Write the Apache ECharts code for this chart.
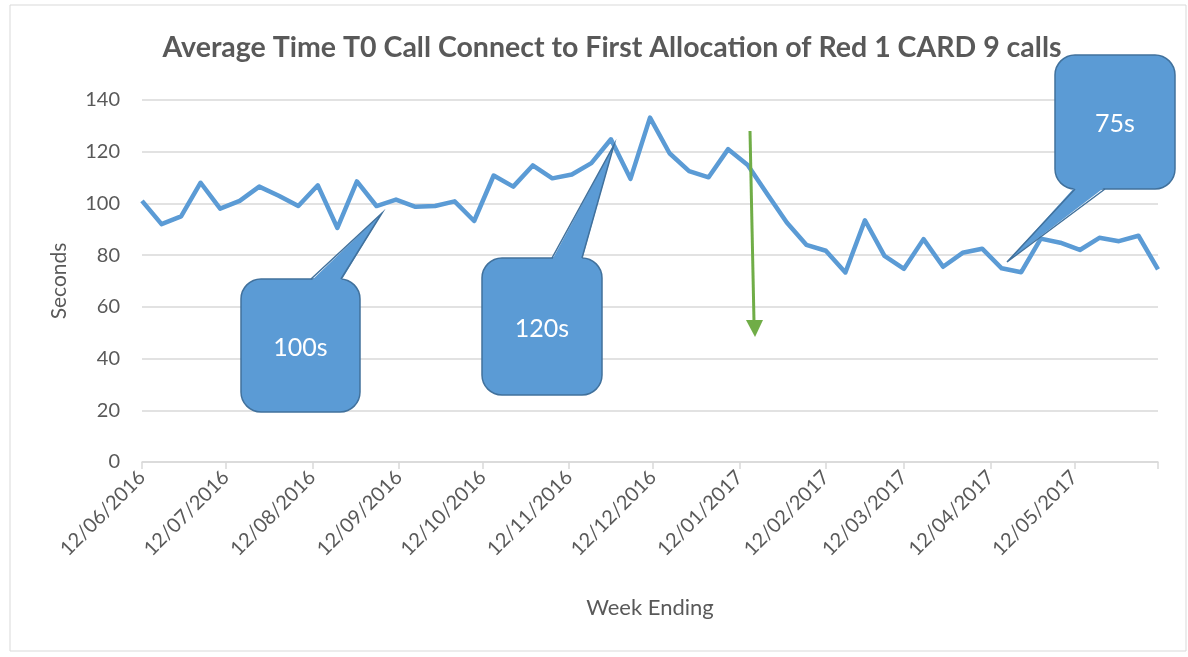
<!DOCTYPE html>
<html>
<head>
<meta charset="utf-8">
<title>Average Time T0 Call Connect</title>
<script src="https://cdn.jsdelivr.net/npm/echarts@6/dist/echarts.min.js"></script>
<style>
  html, body { margin: 0; padding: 0; background: #fff; }
  #chart { width: 1188px; height: 657px; }
</style>
</head>
<body>
<div id="chart"></div>
<script>
// week ending dates (weekly, Sundays)
const weekEnding = [
  '2016-06-12', '2016-06-19', '2016-06-26', '2016-07-03', '2016-07-10', '2016-07-17',
  '2016-07-24', '2016-07-31', '2016-08-07', '2016-08-14', '2016-08-21', '2016-08-28',
  '2016-09-04', '2016-09-11', '2016-09-18', '2016-09-25', '2016-10-02', '2016-10-09',
  '2016-10-16', '2016-10-23', '2016-10-30', '2016-11-06', '2016-11-13', '2016-11-20',
  '2016-11-27', '2016-12-04', '2016-12-11', '2016-12-18', '2016-12-25', '2017-01-01',
  '2017-01-08', '2017-01-15', '2017-01-22', '2017-01-29', '2017-02-05', '2017-02-12',
  '2017-02-19', '2017-02-26', '2017-03-05', '2017-03-12', '2017-03-19', '2017-03-26',
  '2017-04-02', '2017-04-09', '2017-04-16', '2017-04-23', '2017-04-30', '2017-05-07',
  '2017-05-14', '2017-05-21', '2017-05-28', '2017-06-04', '2017-06-11'
];

// average seconds
const seconds = [
  101, 92, 95, 108, 98, 101, 106.5, 103, 99, 107, 90.5, 108.5,
  99, 101.5, 98.7, 99, 100.8, 93.2, 110.8, 106.5, 114.7, 109.7, 111.2, 115.6,
  124.8, 109.5, 133.2, 119.4, 112.5, 110.1, 121, 114.9, 103.6, 92.6, 84, 81.7,
  73.3, 93.5, 79.7, 74.7, 86.2, 75.5, 80.9, 82.5, 74.9, 73.4, 86.4, 84.8,
  82, 86.7, 85.4, 87.5, 74.5
];

// month ticks on the date axis
const monthTicks = [
  '2016-06-12', '2016-07-12', '2016-08-12', '2016-09-12', '2016-10-12', '2016-11-12',
  '2016-12-12', '2017-01-12', '2017-02-12', '2017-03-12', '2017-04-12', '2017-05-12'
];
const axisEnd = '2017-06-11';

const yTicks = [0, 20, 40, 60, 80, 100, 120, 140];

const toTime = s => {
  const p = s.split('-');
  return new Date(+p[0], +p[1] - 1, +p[2]).getTime();
};
const pad = n => (n < 10 ? '0' : '') + n;

const labelVals = monthTicks.map(toTime);
const tickVals = labelVals.concat([toTime(axisEnd)]);

const FONT = 'Lato, "Open Sans", sans-serif';
const TEXT = '#595959';
const BLUE = '#5B9BD5';
const EDGE = '#41719C';

// rounded box with a pointer; the pointer sits on the top or bottom edge
function callout(x, y, w, h, b1, b2, tx, ty, side, text) {
  const edgeY = side === 'top' ? y : y + h;
  const inner = side === 'top' ? edgeY + 2 : edgeY - 2;
  return [
    {
      type: 'rect', z: 100,
      shape: { x: x, y: y, width: w, height: h, r: 20 },
      style: { fill: BLUE, stroke: EDGE, lineWidth: 1.5 }
    },
    {
      type: 'polygon', z: 101,
      shape: { points: [[b1, inner], [tx, ty], [b2, inner]] },
      style: { fill: BLUE }
    },
    {
      type: 'polyline', z: 102,
      shape: { points: [[b1, edgeY], [tx, ty], [b2, edgeY]] },
      style: { fill: null, stroke: EDGE, lineWidth: 1.5 }
    },
    {
      type: 'text', x: x + w / 2, y: y + h / 2 + 2, z: 103,
      style: { text: text, fill: '#fff', font: '25px ' + FONT, align: 'center', verticalAlign: 'middle' }
    }
  ];
}

const chart = echarts.init(document.getElementById('chart'));

chart.setOption({
  animation: false,
  title: {
    text: 'Average Time T0 Call Connect to First Allocation of Red 1 CARD 9 calls',
    left: 607, top: 28, textAlign: 'center',
    textStyle: { color: TEXT, fontFamily: FONT, fontWeight: 'bold', fontSize: 28.5 }
  },
  grid: { left: 142, right: 30, top: 100, bottom: 195 },
  xAxis: {
    type: 'value',
    min: toTime(weekEnding[0]),
    max: toTime(axisEnd),
    name: 'Week Ending',
    nameLocation: 'middle',
    nameGap: 135,
    nameTextStyle: { color: TEXT, fontFamily: FONT, fontSize: 22 },
    axisLine: { lineStyle: { color: '#d9d9d9', width: 1.5 } },
    axisTick: { show: true, length: 7, customValues: tickVals, lineStyle: { color: '#d9d9d9', width: 1.5 } },
    axisLabel: {
      customValues: labelVals,
      rotate: 45,
      margin: 12,
      color: TEXT,
      fontFamily: FONT,
      fontSize: 20,
      formatter: v => {
        const d = new Date(v);
        return pad(d.getDate()) + '/' + pad(d.getMonth() + 1) + '/' + d.getFullYear();
      }
    },
    splitLine: { show: false }
  },
  yAxis: {
    type: 'value',
    min: yTicks[0],
    max: yTicks[yTicks.length - 1],
    interval: 20,
    name: 'Seconds',
    nameLocation: 'middle',
    nameGap: 72,
    nameTextStyle: { color: TEXT, fontFamily: FONT, fontSize: 21 },
    axisLine: { show: false },
    axisTick: { show: false },
    axisLabel: { color: TEXT, fontFamily: FONT, fontSize: 20, margin: 22 },
    splitLine: { lineStyle: { color: '#d9d9d9', width: 1.5 } }
  },
  series: [{
    type: 'line',
    data: weekEnding.map((d, i) => [toTime(d), seconds[i]]),
    showSymbol: false,
    lineStyle: { color: BLUE, width: 4.5, join: 'round' },
    z: 5
  }],
  graphic: [
    {
      type: 'rect', z: -1, silent: true,
      shape: { x: 10, y: 5, width: 1176, height: 646 },
      style: { fill: 'none', stroke: '#d9d9d9', lineWidth: 1 }
    }
  ].concat(
    callout(241, 279, 119, 133, 311, 341, 382, 213, 'top', '100s'),
    callout(482, 258, 120, 137, 552, 582, 614, 145, 'top', '120s'),
    callout(1055, 55, 120, 134, 1075, 1105, 1007, 262, 'bottom', '75s'),
    [
      {
        type: 'line', z: 104,
        shape: { x1: 750, y1: 131, x2: 754, y2: 322 },
        style: { stroke: '#70AD47', lineWidth: 3 }
      },
      {
        type: 'polygon', z: 104,
        shape: { points: [[746, 320], [763, 320], [755, 337]] },
        style: { fill: '#70AD47' }
      }
    ]
  )
});
</script>
</body>
</html>
